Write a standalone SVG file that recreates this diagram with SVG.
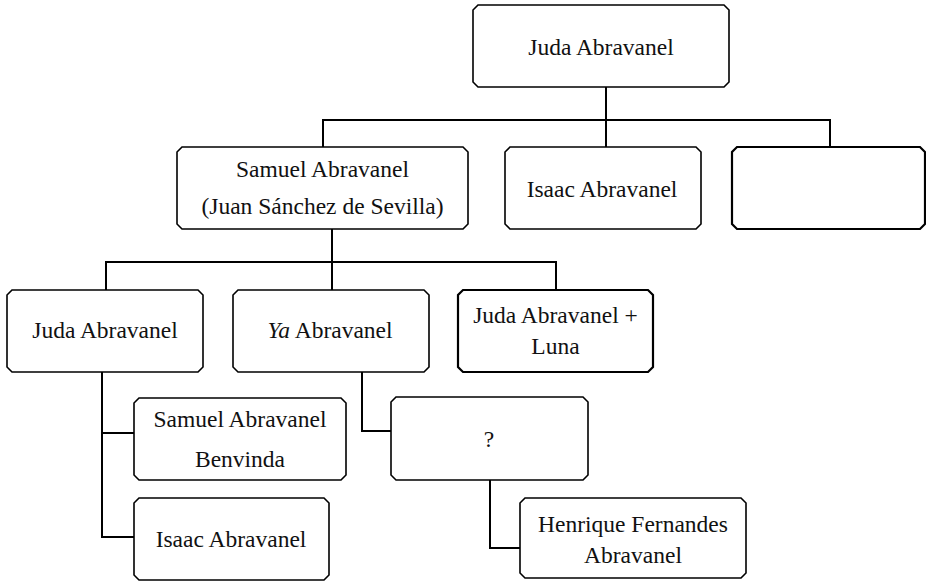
<svg xmlns="http://www.w3.org/2000/svg" width="926" height="581" viewBox="0 0 926 581">
<defs>
<style>
.b{fill:#fff;stroke:#000;stroke-width:1.6}
.bt{fill:#fff;stroke:#000;stroke-width:2.2}
.t{font-family:"Liberation Serif","Times New Roman",serif;font-size:23.5px;fill:#111;text-anchor:middle}
.c{fill:none;stroke:#000;stroke-width:2}
</style>
</defs>
<rect width="926" height="581" fill="#fff"/>
<g id="connectors">
<polyline class="c" points="606,87 606,147"/>
<polyline class="c" points="323,147 323,120 830,120 830,147"/>
<polyline class="c" points="332,229 332,290"/>
<polyline class="c" points="106,290 106,262 556,262 556,290"/>
<polyline class="c" points="102,372 102,537 134,537"/>
<polyline class="c" points="102,433 134,433"/>
<polyline class="c" points="362,372 362,431 391,431"/>
<polyline class="c" points="490,480 490,548 520,548"/>
</g>
<g id="n1"><path class="b" d="M478,5 H724 L729,10 V82 L724,87 H478 L473,82 V10 Z"/><text class="t" x="601" y="55">Juda Abravanel</text></g>
<g id="n2"><path class="b" d="M182,147 H463 L468,152 V224 L463,229 H182 L177,224 V152 Z"/><text class="t" x="322.5" y="177">Samuel Abravanel</text><text class="t" x="322.5" y="214">(Juan Sánchez de Sevilla)</text></g>
<g id="n3"><path class="b" d="M510,147 H696 L701,152 V224 L696,229 H510 L505,224 V152 Z"/><text class="t" x="602" y="197">Isaac Abravanel</text></g>
<g id="n4"><path class="bt" d="M737,147 H920 L925,152 V224 L920,229 H737 L732,224 V152 Z"/></g>
<g id="n5"><path class="b" d="M12,290 H198 L203,295 V367 L198,372 H12 L7,367 V295 Z"/><text class="t" x="105" y="338">Juda Abravanel</text></g>
<g id="n6"><path class="b" d="M238,290 H424 L429,295 V367 L424,372 H238 L233,367 V295 Z"/><text class="t" x="330" y="338"><tspan font-style="italic">Ya</tspan> Abravanel</text></g>
<g id="n7"><path class="bt" d="M463,290 H648 L653,295 V367 L648,372 H463 L458,367 V295 Z"/><text class="t" x="555.5" y="323">Juda Abravanel +</text><text class="t" x="555.5" y="354">Luna</text></g>
<g id="n8"><path class="b" d="M139,398 H341 L346,403 V475 L341,480 H139 L134,475 V403 Z"/><text class="t" x="240" y="427">Samuel Abravanel</text><text class="t" x="240" y="467">Benvinda</text></g>
<g id="n9"><path class="b" d="M139,498 H324 L329,503 V575 L324,580 H139 L134,575 V503 Z"/><text class="t" x="231" y="547">Isaac Abravanel</text></g>
<g id="n10"><path class="b" d="M396,397 H583 L588,402 V475 L583,480 H396 L391,475 V402 Z"/><text class="t" x="489" y="447">?</text></g>
<g id="n11"><path class="b" d="M525,498 H741 L746,503 V573 L741,578 H525 L520,573 V503 Z"/><text class="t" x="633" y="532">Henrique Fernandes</text><text class="t" x="633" y="563">Abravanel</text></g>
</svg>
